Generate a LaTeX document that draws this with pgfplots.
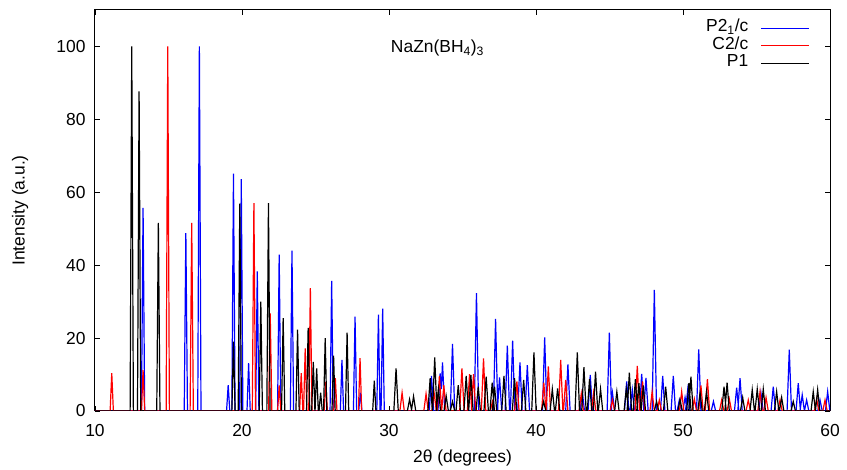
\documentclass[border=0pt]{standalone}
\usepackage{pgfplots}
\pgfplotsset{compat=1.18}
\usepackage{fontspec}
\setmainfont{Liberation Sans}

\begin{document}
\begin{tikzpicture}
\begin{axis}[
  name=ax,
  scale only axis,
  width=735bp, height=401bp,
  xmin=10, xmax=60, ymin=0, ymax=110,
  xtick={10,20,...,60}, ytick={0,20,...,100},
  tick align=inside, major tick length=5bp,
  tick style={black, line width=0.8bp},
  axis line style={line width=1bp},
  font=\fontsize{17.5}{21}\selectfont,
  /pgf/number format/assume math mode=true,
  xticklabel style={yshift=-10bp},
  yticklabel style={xshift=-6bp},
  xlabel={2θ (degrees)},
  ylabel={Intensity (a.u.)},
  xlabel style={at={(axis description cs:0.5,-0.117)}, anchor=center},
  ylabel style={at={(axis description cs:-0.102,0.5)}, anchor=center},
  legend style={draw=none, fill=none, at={(0.977,0.982)}, anchor=north east,
    row sep=0bp, font=\fontsize{17.5}{21}\selectfont,
    nodes={inner sep=0.5bp, text height=12bp, text depth=4.5bp}},
  legend cell align=right,
  legend plot pos=right,
  legend image code/.code={\path (-12bp,0bp); \draw[#1, line width=1bp] (0bp,0bp) -- (48bp,0bp);},
]
% P2_1/c
\addplot[blue, line width=1.2bp] coordinates {
(10,0)
(13.16,0)(13.27,55.7)(13.38,0)
(16.07,0)(16.18,48.8)(16.29,0)
(16.99,0)(17.1,100)(17.21,0)
(18.95,0)(19.06,7.1)(19.17,0)
(19.31,0)(19.42,65.1)(19.53,0)
(19.84,0)(19.95,63.6)(20.06,0)
(20.34,0)(20.45,13.1)(20.56,0)
(20.93,0)(21.04,38.3)(21.15,0)
(22.42,0)(22.53,42.9)(22.64,0)
(23.29,0)(23.4,44)(23.51,0)
(25.99,0)(26.1,35.7)(26.21,0)
(26.69,0)(26.8,14)(26.91,0)
(27.58,0)(27.69,25.9)(27.8,0)
(27.94,0)(28.05,5)(28.16,0)
(29.17,0)(29.28,26.4)(29.39,0)
(29.46,0)(29.57,28.1)(29.68,0)
(32.74,0)(32.89,9.6)(33.04,0)
(33.33,0)(33.48,10.3)(33.56,6)(33.64,13.3)(33.79,0)
(34.17,0)(34.32,18.4)(34.47,0)
(35.8,0)(35.95,32.3)(36.1,0)
(37.1,0)(37.25,25.3)(37.4,0)
(37.37,0)(37.52,9.2)(37.67,0)
(37.9,0)(38.05,17.9)(38.2,0)
(38.26,0)(38.41,19.3)(38.56,0)
(38.76,0)(38.91,13.3)(39.06,0)
(39.26,0)(39.41,12.6)(39.56,0)
(40.44,0)(40.59,20.2)(40.74,0)
(42.02,0)(42.17,12.8)(42.32,0)
(43.0,0)(43.15,5.3)(43.3,0)
(43.54,0)(43.69,9.9)(43.84,0)
(44.84,0)(44.99,21.5)(45.14,0)
(45.05,0)(45.2,5)(45.35,0)
(46.02,0)(46.17,8.1)(46.32,0)
(46.4,0)(46.55,5.8)(46.7,0)
(47.04,0)(47.19,10.2)(47.34,0)
(47.33,0)(47.48,9.1)(47.63,0)
(47.9,0)(48.05,33.2)(48.2,0)
(48.47,0)(48.62,9.6)(48.77,0)
(49.19,0)(49.34,9.6)(49.49,0)
(49.6,0)(49.75,3)(49.9,0)
(49.99,0)(50.14,3.7)(50.29,0)
(50.17,0)(50.32,5.8)(50.47,0)
(50.92,0)(51.07,16.9)(51.22,0)
(51.92,0)(52.07,2.6)(52.22,0)
(53.5,0)(53.65,6.4)(53.8,0)
(53.73,0)(53.88,9)(54.03,0)
(55.15,0)(55.3,5)(55.45,0)
(55.99,0)(56.14,6.7)(56.29,0)
(57.08,0)(57.23,16.8)(57.38,0)
(57.69,0)(57.84,7.6)(57.99,0)
(57.96,0)(58.11,4.4)(58.26,0)
(58.26,0)(58.41,3)(58.56,0)
(59.17,0)(59.32,3)(59.47,0)
(59.69,0)(59.84,5.3)(59.99,0)
(60,0)
};
\addlegendentry{P2\textsubscript{1}/c}
% C2/c
\addplot[red, line width=1.2bp] coordinates {
(10,0)
(11.03,0)(11.14,10.4)(11.25,0)
(13.16,0)(13.27,11.3)(13.38,0)
(14.84,0)(14.95,100)(15.06,0)
(16.47,0)(16.58,51.6)(16.69,0)
(20.7,0)(20.81,57)(20.92,0)
(21.81,0)(21.92,26.8)(22.03,0)
(22.42,0)(22.53,7)(22.64,0)
(23.92,0)(24.03,10.4)(24.14,0)
(24.19,0)(24.3,17.2)(24.41,0)
(24.54,0)(24.65,33.7)(24.76,0)
(25.59,0)(25.7,8)(25.81,0)
(26.24,0)(26.35,9)(26.46,0)
(27.92,0)(28.03,14.5)(28.14,0)
(30.74,0)(30.89,5)(31.04,0)
(32.37,0)(32.52,4.7)(32.67,0)
(32.92,0)(33.07,5)(33.22,0)
(33.28,0)(33.43,9.6)(33.58,0)
(33.58,0)(33.73,7.1)(33.88,0)
(34.81,0)(34.96,11.7)(35.11,0)
(35.33,0)(35.48,10.1)(35.63,0)
(35.6,0)(35.75,10.1)(35.9,0)
(36.28,0)(36.43,14.4)(36.58,0)
(36.89,0)(37.04,2.6)(37.19,0)
(38.55,0)(38.7,8.1)(38.85,0)
(40.38,0)(40.53,7.8)(40.68,0)
(40.69,0)(40.84,12.2)(40.99,0)
(41.53,0)(41.68,14)(41.83,0)
(41.87,0)(42.02,8.5)(42.17,0)
(42.93,0)(43.08,4.7)(43.23,0)
(43.77,0)(43.92,5)(44.07,0)
(45.05,0)(45.2,3)(45.35,0)
(46.74,0)(46.89,12.4)(47.04,0)
(47.1,0)(47.25,8.1)(47.4,0)
(47.75,0)(47.9,5.3)(48.05,0)
(48.24,0)(48.39,3)(48.54,0)
(49.76,0)(49.91,5.3)(50.06,0)
(50.62,0)(50.77,3.3)(50.92,0)
(51.07,0)(51.22,7)(51.37,0)
(51.51,0)(51.66,8.7)(51.81,0)
(52.48,0)(52.63,3)(52.78,0)
(53.0,0)(53.15,3.3)(53.3,0)
(54.29,0)(54.44,3)(54.59,0)
(55.09,0)(55.24,5.3)(55.39,0)
(55.5,0)(55.65,3.7)(55.8,0)
(56.45,0)(56.6,3)(56.75,0)
(58.94,0)(59.09,3.3)(59.24,0)
(59.51,0)(59.66,3)(59.81,0)
(60,0)
};
\addlegendentry{C2/c}
% P1
\addplot[black, line width=1.2bp] coordinates {
(10,0)
(12.39,0)(12.5,100)(12.61,0)
(12.89,0)(13.0,87.7)(13.11,0)
(14.2,0)(14.31,51.6)(14.42,0)
(19.31,0)(19.42,19)(19.53,0)
(19.74,0)(19.85,56.9)(19.96,0)
(21.17,0)(21.28,30)(21.39,0)
(21.69,0)(21.8,57)(21.91,0)
(22.69,0)(22.8,25.5)(22.91,0)
(23.67,0)(23.78,22.3)(23.89,0)
(24.39,0)(24.5,22.8)(24.61,0)
(24.74,0)(24.85,13.5)(24.96,0)
(24.97,0)(25.08,11.7)(25.19,0)
(25.24,0)(25.35,5)(25.46,0)
(25.55,0)(25.66,20)(25.77,0)
(26.12,0)(26.23,15.2)(26.34,0)
(27.04,0)(27.15,21.5)(27.26,0)
(28.89,0)(29.0,8.3)(29.11,0)
(30.33,0)(30.48,11.7)(30.63,0)
(31.25,0)(31.4,3.2)(31.55,0)
(31.52,0)(31.67,4)(31.82,0)
(32.65,0)(32.8,9)(32.95,0)
(32.96,0)(33.11,14.7)(33.26,0)
(33.21,0)(33.36,6)(33.51,0)
(33.74,0)(33.89,4.1)(34.04,0)
(34.17,0)(34.32,2.6)(34.47,0)
(34.56,0)(34.71,7.1)(34.86,0)
(35.1,0)(35.25,9.6)(35.4,0)
(35.42,0)(35.57,9.9)(35.72,0)
(35.92,0)(36.07,6.7)(36.22,0)
(36.46,0)(36.61,9.4)(36.76,0)
(36.87,0)(37.02,7.8)(37.17,0)
(37.03,0)(37.18,6.7)(37.33,0)
(37.67,0)(37.82,9.6)(37.97,0)
(38.39,0)(38.54,9)(38.69,0)
(39.01,0)(39.16,8.5)(39.31,0)
(39.71,0)(39.86,16.1)(40.01,0)
(40.37,0)(40.52,2.6)(40.67,0)
(40.96,0)(41.11,6)(41.26,0)
(41.32,0)(41.47,6.2)(41.62,0)
(42.66,0)(42.81,16.1)(42.96,0)
(43.11,0)(43.26,12)(43.41,0)
(43.49,0)(43.64,8.7)(43.79,0)
(43.9,0)(44.05,10.8)(44.2,0)
(44.24,0)(44.39,6)(44.54,0)
(45.35,0)(45.5,5.3)(45.65,0)
(45.99,0)(46.14,6)(46.29,0)
(46.2,0)(46.35,10.5)(46.5,0)
(46.61,0)(46.76,8.7)(46.91,0)
(46.85,0)(47.0,7.6)(47.15,0)
(47.15,0)(47.3,7)(47.45,0)
(48.05,0)(48.2,2.6)(48.35,0)
(48.67,0)(48.82,6.7)(48.97,0)
(49.65,0)(49.8,3.1)(49.95,0)
(50.25,0)(50.4,7.6)(50.55,0)
(50.39,0)(50.54,9.4)(50.69,0)
(51.01,0)(51.16,5)(51.31,0)
(51.45,0)(51.6,5.3)(51.75,0)
(52.64,0)(52.79,6.7)(52.94,0)
(52.85,0)(53.0,7.8)(53.15,0)
(53.91,0)(54.06,3.7)(54.21,0)
(54.56,0)(54.71,5.8)(54.86,0)
(54.9,0)(55.05,6)(55.2,0)
(55.31,0)(55.46,6)(55.61,0)
(56.22,0)(56.37,5.3)(56.52,0)
(56.56,0)(56.71,3.7)(56.86,0)
(57.35,0)(57.5,2.6)(57.65,0)
(58.71,0)(58.86,5.3)(59.01,0)
(59.01,0)(59.16,5.8)(59.31,0)
(60,0)
};
\addlegendentry{P1}
\node[font=\fontsize{17.5}{21}\selectfont] at (axis cs:33.3,99.6) {NaZn(BH\textsubscript{4})\textsubscript{3}};
\end{axis}
\path ([xshift=-95bp,yshift=-57bp]ax.south west) rectangle ([xshift=17bp,yshift=10bp]ax.north east);
\end{tikzpicture}
\end{document}
